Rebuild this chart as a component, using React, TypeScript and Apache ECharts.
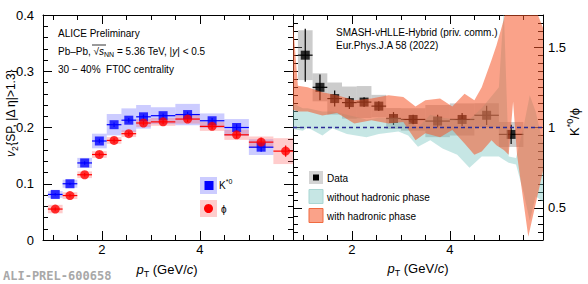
import React, { useEffect, useRef } from 'react';
import * as echarts from 'echarts';

// ---------- data ----------
const binLo = [0.9, 1.2, 1.5, 1.8, 2.1, 2.4, 2.7, 3.0, 3.5, 4.0, 4.5, 5.0, 5.5];
const binHi = [1.2, 1.5, 1.8, 2.1, 2.4, 2.7, 3.0, 3.5, 4.0, 4.5, 5.0, 5.5, 6.0];
const ptCenter = [1.05, 1.35, 1.65, 1.95, 2.25, 2.55, 2.85, 3.25, 3.75, 4.25, 4.75, 5.25, 5.75];

const kstarV2 = [0.081, 0.100, 0.137, 0.176, 0.205, 0.213, 0.219, 0.221, 0.223, 0.212, 0.200, 0.165];
const kstarStat = [0.002, 0.002, 0.003, 0.004, 0.004, 0.004, 0.004, 0.004, 0.005, 0.005, 0.006, 0.008];
const kstarSys = [0.006, 0.007, 0.009, 0.013, 0.019, 0.021, 0.021, 0.015, 0.019, 0.013, 0.015, 0.014];

const phiV2 = [0.055, 0.079, 0.116, 0.152, 0.177, 0.189, 0.208, 0.210, 0.215, 0.202, 0.187, 0.174, 0.158];
const phiStat = [0.003, 0.003, 0.003, 0.003, 0.004, 0.004, 0.004, 0.004, 0.005, 0.005, 0.006, 0.008, 0.010];
const phiSys = [0.0075, 0.006, 0.006, 0.006, 0.006, 0.006, 0.007, 0.007, 0.008, 0.008, 0.009, 0.010, 0.023];

const ratio = [1.45, 1.25, 1.18, 1.155, 1.158, 1.133, 1.056, 1.05, 1.04, 1.05, 1.076, 0.957];
const ratioStat = [0.165, 0.08, 0.05, 0.04, 0.03, 0.03, 0.04, 0.03, 0.04, 0.04, 0.06, 0.06];
const ratioSys = [0.155, 0.087, 0.1, 0.1, 0.1, 0.07, 0.065, 0.07, 0.1, 0.1, 0.075, 0.078];

const withX = [0.8, 0.9, 1.1, 1.4, 1.7, 2.05, 2.4, 2.75, 3.05, 3.3, 3.5, 3.8, 4.05, 4.3, 4.5, 4.65, 4.85, 4.95, 5.1, 5.2, 5.29, 5.37, 5.6, 5.9];
const withLo = [1.11, 1.10, 1.10, 1.075, 1.09, 1.025, 1.045, 1.025, 1.035, 0.92, 0.965, 0.94, 0.985, 0.90, 0.83, 0.85, 0.92, 0.89, 0.86, 0.83, 1.16, 0.83, 0.32, 0.73];
const withHi = [1.65, 1.26, 1.25, 1.22, 1.20, 1.17, 1.18, 1.20, 1.19, 1.13, 1.17, 1.18, 1.13, 1.21, 1.17, 1.25, 1.42, 1.51, 1.67, 1.85, 1.85, 1.85, 1.85, 1.62];

const withoutX = [0.8, 1.0, 1.1, 1.4, 1.6, 1.9, 2.3, 2.55, 2.95, 3.15, 3.35, 3.6, 3.85, 4.15, 4.4, 4.65, 5.0, 5.1, 5.2, 5.35, 5.5, 5.63, 5.75, 5.9];
const withoutLo = [0.99, 0.98, 1.0, 0.95, 0.995, 0.96, 0.94, 0.96, 0.975, 0.95, 0.88, 0.92, 0.87, 0.83, 0.75, 0.82, 0.82, 0.80, 0.78, 0.77, 0.60, 0.42, 0.57, 0.54];
const withoutHi = [1.15, 1.12, 1.12, 1.10, 1.10, 1.08, 1.05, 1.06, 1.06, 1.04, 1.0, 1.08, 1.06, 1.05, 1.05, 1.12, 1.25, 1.74, 0.82, 0.81, 1.0, 1.2, 1.1, 0.9];

const xMajor = [2, 4];
const xMinor = [1, 1.5, 2.5, 3, 3.5, 4.5, 5, 5.5];
const rMajor = [0.5, 1, 1.5];
const rMinor = [0.35, 0.4, 0.45, 0.55, 0.6, 0.65, 0.7, 0.75, 0.8, 0.85, 0.9, 0.95, 1.05, 1.1, 1.15, 1.2, 1.25, 1.3, 1.35, 1.4, 1.45, 1.55, 1.6, 1.65];

// ---------- helpers ----------
const FONT = '"Liberation Sans", Arial, Helvetica, sans-serif';

function clipPoly(pts: number[][], x0: number, y0: number, x1: number, y1: number) {
  const edges = [
    (p: number[]) => p[0] >= x0, (p: number[]) => p[0] <= x1,
    (p: number[]) => p[1] >= y0, (p: number[]) => p[1] <= y1,
  ];
  const inter = (a: number[], b: number[], k: number) => {
    let t = 0;
    if (k === 0) t = (x0 - a[0]) / (b[0] - a[0]);
    if (k === 1) t = (x1 - a[0]) / (b[0] - a[0]);
    if (k === 2) t = (y0 - a[1]) / (b[1] - a[1]);
    if (k === 3) t = (y1 - a[1]) / (b[1] - a[1]);
    return [a[0] + t * (b[0] - a[0]), a[1] + t * (b[1] - a[1])];
  };
  let out = pts;
  for (let k = 0; k < 4; k++) {
    const inp = out; out = [];
    if (!inp.length) break;
    for (let i = 0; i < inp.length; i++) {
      const cur = inp[i], prev = inp[(i + inp.length - 1) % inp.length];
      const ci = edges[k](cur), pi = edges[k](prev);
      if (ci) { if (!pi) out.push(inter(prev, cur, k)); out.push(cur); }
      else if (pi) out.push(inter(prev, cur, k));
    }
  }
  return out;
}

function boxSeries(xi: number, yi: number, v: number[], sys: number[], fill: string, z: number) {
  return {
    type: 'custom', xAxisIndex: xi, yAxisIndex: yi, z, silent: true, encode: { x: 0, y: 2 },
    data: v.map((val, i) => [binLo[i], binHi[i], val, sys[i]]),
    renderItem: (params: any, api: any) => {
      const cs = params.coordSys;
      const p1 = api.coord([api.value(0), api.value(2) + api.value(3)]);
      const p2 = api.coord([api.value(1), api.value(2) - api.value(3)]);
      const xa = Math.max(p1[0], cs.x), xb = Math.min(p2[0], cs.x + cs.width);
      return { type: 'rect', shape: { x: xa, y: p1[1], width: xb - xa, height: p2[1] - p1[1] }, style: { fill } };
    },
  };
}

function errSeries(xi: number, yi: number, v: number[], e: number[], color: string, z: number, lw: number) {
  return {
    type: 'custom', xAxisIndex: xi, yAxisIndex: yi, z, silent: true, encode: { x: 0, y: 3 },
    data: v.map((val, i) => [ptCenter[i], binLo[i], binHi[i], val, e[i]]),
    renderItem: (params: any, api: any) => {
      const cs = params.coordSys;
      const y = api.value(3), err = api.value(4);
      const pl = api.coord([api.value(1), y]), ph = api.coord([api.value(2), y]);
      const pt = api.coord([api.value(0), y + err]), pb = api.coord([api.value(0), y - err]);
      const xb = Math.min(ph[0], cs.x + cs.width);
      return {
        type: 'group', children: [
          { type: 'line', shape: { x1: pl[0], y1: pl[1], x2: xb, y2: ph[1] }, style: { stroke: color, lineWidth: lw } },
          { type: 'line', shape: { x1: pt[0], y1: pt[1], x2: pb[0], y2: pb[1] }, style: { stroke: color, lineWidth: lw } },
        ],
      };
    },
  };
}

function bandSeries(xs: number[], lo: number[], hi: number[], fill: string, z: number) {
  return {
    type: 'custom', xAxisIndex: 4, yAxisIndex: 2, z, silent: true, encode: { x: 0, y: 1 },
    data: [[xs[0], lo[0]]],
    renderItem: (params: any, api: any) => {
      const cs = params.coordSys;
      const pts: number[][] = [];
      for (let i = 0; i < xs.length; i++) pts.push(api.coord([xs[i], hi[i]]));
      for (let i = xs.length - 1; i >= 0; i--) pts.push(api.coord([xs[i], lo[i]]));
      const c = clipPoly(pts, cs.x, cs.y, cs.x + cs.width, cs.y + cs.height);
      return { type: 'polygon', shape: { points: c }, style: { fill } };
    },
  };
}

const axLine = { show: true, lineStyle: { color: '#000', width: 1 } };

function xAx(grid: number, pos: string, major: boolean, labels: boolean) {
  return {
    type: 'value', gridIndex: grid, position: pos, min: 0.8, max: 5.9,
    axisLine: major ? axLine : { show: false },
    splitLine: { show: false },
    axisTick: { show: true, inside: true, length: major ? 9 : 5, customValues: major ? xMajor : xMinor, lineStyle: { color: '#000' } },
    axisLabel: labels ? { show: true, customValues: xMajor, fontSize: 13, color: '#000', fontFamily: FONT, margin: 3 } : { show: false },
  };
}

function rAx(pos: string, major: boolean, labels: boolean) {
  return {
    type: 'value', gridIndex: 1, position: pos, min: 0.3, max: 1.7,
    axisLine: major ? axLine : { show: false },
    splitLine: { show: false },
    axisTick: { show: true, inside: true, length: major ? 9 : 5, customValues: major ? rMajor : rMinor, lineStyle: { color: '#000' } },
    axisLabel: labels ? { show: true, customValues: rMajor, fontSize: 13, color: '#000', fontFamily: FONT, margin: 5 } : { show: false },
  };
}

function vAx(pos: string, labels: boolean) {
  return {
    type: 'value', gridIndex: 0, position: pos, min: 0, max: 0.4, interval: 0.1,
    axisLine: axLine, splitLine: { show: false },
    axisTick: { show: true, inside: true, length: 9, lineStyle: { color: '#000' } },
    minorTick: { show: true, splitNumber: 5, length: 5, lineStyle: { color: '#000' } },
    axisLabel: labels ? { show: true, fontSize: 13, color: '#000', fontFamily: FONT, margin: 9 } : { show: false },
  };
}

const rich = {
  it: { fontStyle: 'italic', fontSize: 13, fontFamily: FONT, verticalAlign: 'middle', lineHeight: 18 },
  n: { fontSize: 13, fontFamily: FONT, verticalAlign: 'middle', lineHeight: 18 },
  sub: { fontSize: 9, fontFamily: FONT, verticalAlign: 'bottom', lineHeight: 18 },
};
const richY = {
  it: { fontStyle: 'italic', fontSize: 12, fontFamily: FONT, verticalAlign: 'middle', lineHeight: 17 },
  n: { fontSize: 12, fontFamily: FONT, verticalAlign: 'middle', lineHeight: 17 },
  sub: { fontSize: 8.5, fontFamily: FONT, verticalAlign: 'bottom', lineHeight: 17 },
};
const richS = {
  it: { fontStyle: 'italic', fontSize: 10, fontFamily: FONT, verticalAlign: 'middle', lineHeight: 14 },
  n: { fontSize: 10, fontFamily: FONT, verticalAlign: 'middle', lineHeight: 14 },
  sub: { fontSize: 7, fontFamily: FONT, verticalAlign: 'bottom', lineHeight: 14 },
  sup: { fontSize: 7, fontFamily: FONT, verticalAlign: 'top', lineHeight: 14 },
};

function txt(x: number, y: number, text: string, size = 10, extra: any = {}) {
  return {
    type: 'text', x, y, z: 100, silent: true,
    style: { text, fontSize: size, fontFamily: FONT, fill: '#000', align: 'left', verticalAlign: 'middle', ...extra },
  };
}

export default function App() {
  const ref = useRef<HTMLDivElement>(null);
  useEffect(() => {
    if (!ref.current) return;
    const chart = echarts.init(ref.current, undefined, { renderer: 'svg' });
    const option: any = {
      animation: false,
      backgroundColor: '#fff',
      grid: [
        { left: 43, top: 15, width: 250, height: 225 },
        { left: 293, top: 15, width: 250, height: 225 },
      ],
      xAxis: [
        xAx(0, 'bottom', true, true), xAx(0, 'bottom', false, false),
        xAx(0, 'top', true, false), xAx(0, 'top', false, false),
        xAx(1, 'bottom', true, true), xAx(1, 'bottom', false, false),
        xAx(1, 'top', true, false), xAx(1, 'top', false, false),
      ],
      yAxis: [
        vAx('left', true), vAx('right', false),
        rAx('right', true, true), rAx('right', false, false),
        rAx('left', true, false), rAx('left', false, false),
      ],
      series: [
        // left panel
        boxSeries(0, 0, kstarV2, kstarSys, 'rgba(100,100,255,0.33)', 2),
        boxSeries(0, 0, phiV2, phiSys, 'rgba(255,100,100,0.33)', 3),
        errSeries(0, 0, kstarV2, kstarStat, '#0000ff', 4, 1.2),
        errSeries(0, 0, phiV2, phiStat, '#ff0000', 5, 1.2),
        {
          type: 'scatter', xAxisIndex: 0, yAxisIndex: 0, z: 6, symbol: 'rect', symbolSize: 9,
          itemStyle: { color: '#0000ff' }, silent: true,
          data: kstarV2.map((v, i) => [ptCenter[i], v]),
        },
        {
          type: 'scatter', xAxisIndex: 0, yAxisIndex: 0, z: 7, symbol: 'circle', symbolSize: 9,
          itemStyle: { color: '#ff0000' }, silent: true,
          data: phiV2.map((v, i) => [ptCenter[i], v]),
        },
        // right panel
        boxSeries(4, 2, ratio, ratioSys, 'rgba(120,120,120,0.38)', 2),
        errSeries(4, 2, ratio, ratioStat, '#000', 3, 1.2),
        {
          type: 'scatter', xAxisIndex: 4, yAxisIndex: 2, z: 4, symbol: 'rect', symbolSize: 9,
          itemStyle: { color: '#000' }, silent: true,
          data: ratio.map((v, i) => [ptCenter[i], v]),
        },
        bandSeries(withoutX, withoutLo, withoutHi, 'rgba(120,195,190,0.42)', 6),
        bandSeries(withX, withLo, withHi, 'rgba(245,85,40,0.55)', 7),
        {
          type: 'line', xAxisIndex: 4, yAxisIndex: 2, z: 8, silent: true, symbol: 'none',
          lineStyle: { color: '#2b2b96', width: 1.3, type: [4, 3] },
          data: [[0.8, 1], [5.9, 1]],
        },
      ],
      graphic: [
        // left header
        txt(58, 33, 'ALICE Preliminary'),
        txt(58, 51, '{n|Pb–Pb, √}{it|s}{sub|NN}{n| = 5.36 TeV, |}{it|y}{n|| < 0.5}', 10, { rich: richS }),
        { type: 'line', z: 100, silent: true, shape: { x1: 92, y1: 45, x2: 106, y2: 45 }, style: { stroke: '#000', lineWidth: 0.8 } },
        txt(58, 69, '30 − 40%  FT0C centrality'),
        // right header
        txt(336, 32, 'SMASH-vHLLE-Hybrid (priv. comm.)'),
        txt(336, 45, 'Eur.Phys.J.A 58 (2022)'),
        // left legend
        { type: 'rect', z: 100, silent: true, shape: { x: 200, y: 177, width: 17, height: 17 }, style: { fill: 'rgba(100,100,255,0.33)' } },
        { type: 'rect', z: 101, silent: true, shape: { x: 204.5, y: 181, width: 9, height: 9 }, style: { fill: '#0000ff' } },
        txt(219, 185, '{n|K}{sup|*0}', 10, { rich: richS }),
        { type: 'rect', z: 100, silent: true, shape: { x: 200, y: 200, width: 17, height: 17 }, style: { fill: 'rgba(255,100,100,0.33)' } },
        { type: 'circle', z: 101, silent: true, shape: { cx: 208.5, cy: 208.5, r: 4.5 }, style: { fill: '#ff0000' } },
        txt(221, 209, 'ϕ'),
        // right legend
        { type: 'rect', z: 100, silent: true, shape: { x: 309, y: 171, width: 14, height: 13 }, style: { fill: '#d4d4d4' } },
        { type: 'rect', z: 101, silent: true, shape: { x: 313, y: 174.5, width: 6, height: 6 }, style: { fill: '#000' } },
        txt(327, 178, 'Data'),
        { type: 'rect', z: 100, silent: true, shape: { x: 309, y: 189.5, width: 14, height: 14 }, style: { fill: 'rgba(120,195,190,0.42)', stroke: '#a9d6d3', lineWidth: 1 } },
        txt(327, 197, 'without hadronic phase'),
        { type: 'rect', z: 100, silent: true, shape: { x: 309, y: 208.5, width: 14, height: 14 }, style: { fill: 'rgba(245,85,40,0.55)', stroke: '#f06a40', lineWidth: 1 } },
        txt(327, 216, 'with hadronic phase'),
        // axis titles
        txt(167, 269, '{it|p}{sub|T}{n| (GeV/}{it|c}{n|)}', 13, { rich, align: 'center' }),
        txt(418, 268, '{it|p}{sub|T}{n| (GeV/}{it|c}{n|)}', 13, { rich, align: 'center' }),
        {
          type: 'text', x: 11, y: 113, rotation: Math.PI / 2, z: 100, silent: true,
          style: { text: '{it|v}{sub|2}{SP, |Δ η|>1.3}', rich: richY, fontSize: 12, fontFamily: FONT, fill: '#000', align: 'center', verticalAlign: 'middle' },
        },
        {
          type: 'text', x: 574, y: 122, rotation: Math.PI / 2, z: 100, silent: true,
          style: { text: '{n|K}{sup|*0}{n|/ϕ}', rich: { ...rich, sup: { fontSize: 9, fontFamily: FONT, verticalAlign: 'top', lineHeight: 18 } }, fontSize: 13, fontFamily: FONT, fill: '#000', align: 'center', verticalAlign: 'middle' },
        },
        // watermark
        {
          type: 'text', x: 3, y: 276, z: 100, silent: true,
          style: { text: 'ALI-PREL-600658', fontSize: 12, fontWeight: 'bold', fontFamily: '"DejaVu Sans Mono", "Liberation Mono", monospace', fill: '#a8a8a8', align: 'left', verticalAlign: 'middle' },
        },
      ],
    };
    chart.setOption(option);
    return () => chart.dispose();
  }, []);
  return <div ref={ref} style={{ position: 'fixed', left: 0, top: 0, width: 588, height: 284 }} />;
}
